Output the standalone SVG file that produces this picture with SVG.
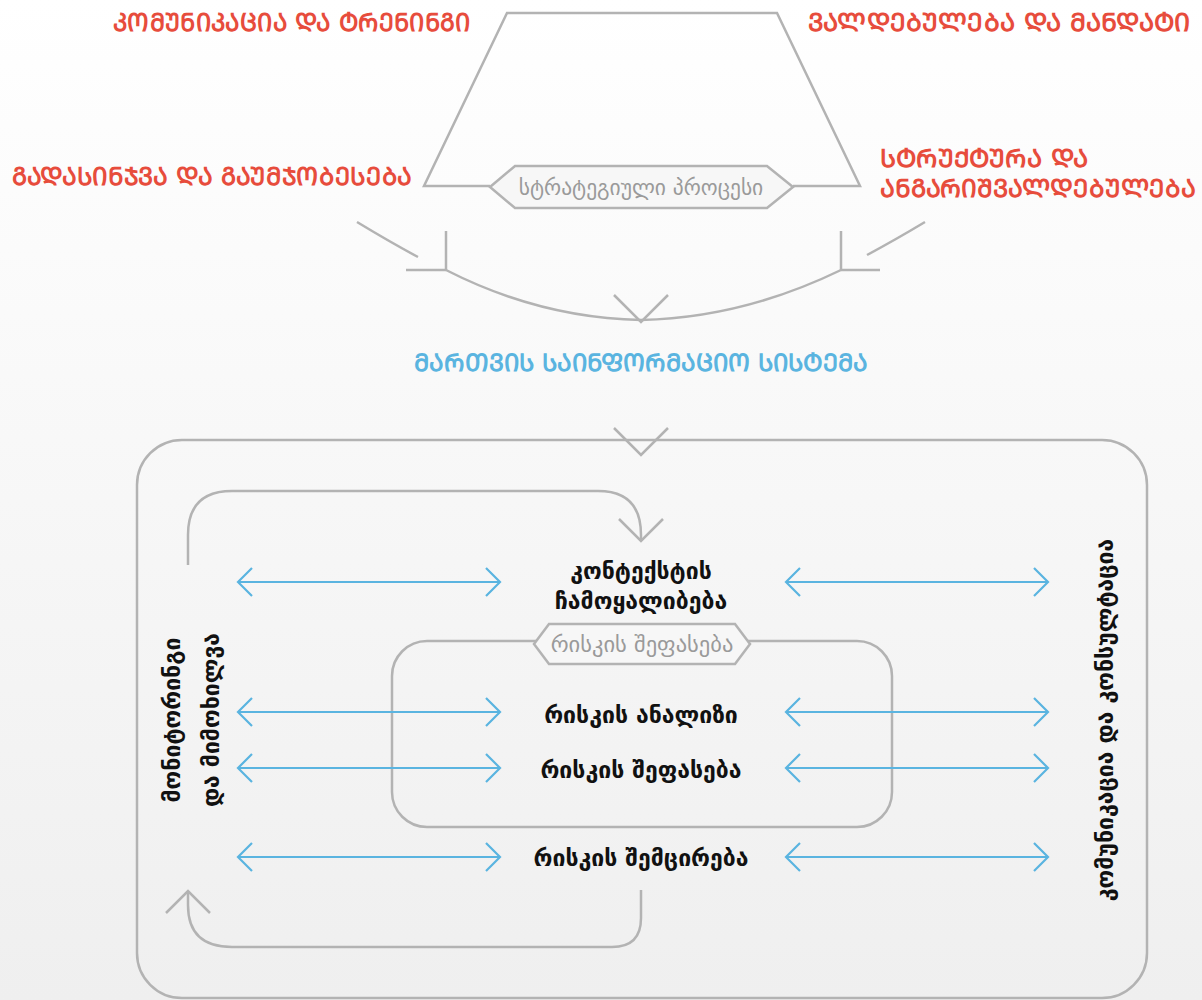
<svg xmlns="http://www.w3.org/2000/svg" width="1202" height="1000" viewBox="0 0 1202 1000">
<defs>
<linearGradient id="bg" x1="0" y1="0" x2="0" y2="1">
<stop offset="0" stop-color="#ffffff"/>
<stop offset="1" stop-color="#efefef"/>
</linearGradient>
<marker id="ba" viewBox="0 0 20 30" refX="18" refY="15" markerWidth="20" markerHeight="30" markerUnits="userSpaceOnUse" orient="auto-start-reverse">
<path d="M4,1 L18,15 L4,29" fill="none" stroke="#5ab4e0" stroke-width="2.2"/>
</marker>
<style>
.g{fill:none;stroke:#b3b3b3;stroke-width:2.5;stroke-linecap:butt}
.b{fill:none;stroke:#5ab4e0;stroke-width:2.2;marker-start:url(#ba);marker-end:url(#ba)}
.red{font-family:"DejaVu Sans",sans-serif;font-size:25px;font-weight:bold;fill:#e74c3c}
.blue{font-family:"DejaVu Sans",sans-serif;font-size:24.3px;font-weight:bold;fill:#5ab4e0}
.gt{font-family:"DejaVu Sans",sans-serif;font-size:21.5px;fill:#9a9a9a;text-anchor:middle}
.k{font-family:"DejaVu Sans",sans-serif;font-size:23px;font-weight:bold;fill:#111;text-anchor:middle}
.hex{fill:#f7f7f7;stroke:#b3b3b3;stroke-width:2.5}
</style>
</defs>
<rect width="1202" height="1000" fill="url(#bg)"/>

<g id="labels-top">
<text class="red" x="113" y="31" textLength="357" lengthAdjust="spacingAndGlyphs">ᲙᲝᲛᲣᲜᲘᲙᲐᲪᲘᲐ ᲓᲐ ᲢᲠᲔᲜᲘᲜᲒᲘ</text>
<text class="red" x="808" y="31" textLength="382" lengthAdjust="spacingAndGlyphs">ᲕᲐᲚᲓᲔᲑᲣᲚᲔᲑᲐ ᲓᲐ ᲛᲐᲜᲓᲐᲢᲘ</text>
<text class="red" x="12" y="185" textLength="400" lengthAdjust="spacingAndGlyphs">ᲒᲐᲓᲐᲡᲘᲜᲯᲕᲐ ᲓᲐ ᲒᲐᲣᲛᲯᲝᲑᲔᲡᲔᲑᲐ</text>
<text class="red" x="880" y="167" textLength="208" lengthAdjust="spacingAndGlyphs">ᲡᲢᲠᲣᲥᲢᲣᲠᲐ  ᲓᲐ</text>
<text class="red" x="880" y="197" textLength="316" lengthAdjust="spacingAndGlyphs">ᲐᲜᲒᲐᲠᲘᲨᲕᲐᲚᲓᲔᲑᲣᲚᲔᲑᲐ</text>
</g>

<g id="connectors">
<path class="g" d="M490,186 H424 L507,13 H777 L860,186 H793"/>
<path class="g" d="M357,222 Q390,242 418,257"/>
<path class="g" d="M446,231 V270 M406,270 H446"/>
<path class="g" d="M841,231 V270 M841,270 H880"/>
<path class="g" d="M925,222 Q895,240 867,255"/>
<path class="g" d="M446,270 Q540,318 641,320 Q742,318 841,270"/>
<path class="g" d="M614,295 L641,322 L668,295"/>
<path class="g" d="M614,428 L641,455 L668,428"/>
<rect class="g" x="137" y="440" width="1010" height="558" rx="45"/>
<path class="g" d="M188,565 V535 Q188,491 232,491 H598 Q641,491 641,535 V541"/>
<path class="g" d="M619,519 L641,541 L663,519"/>
<path class="g" d="M641,890 V918 Q641,947 612,947 H232 Q188,947 188,905 V893"/>
<path class="g" d="M166,913 L188,891 L210,913"/>
<rect class="g" x="392" y="641" width="500" height="186" rx="35"/>
<path class="b" d="M238,582 H500"/>
<path class="b" d="M786,582 H1048"/>
<path class="b" d="M238,712 H500"/>
<path class="b" d="M786,712 H1048"/>
<path class="b" d="M238,768 H500"/>
<path class="b" d="M786,768 H1048"/>
<path class="b" d="M238,857 H500"/>
<path class="b" d="M786,857 H1048"/>
</g>

<g id="node-strategic">
<polygon class="hex" points="490,187 515,166 767,166 793,187 767,208 515,208"/>
<text class="gt" x="641" y="195">სტრატეგიული პროცესი</text>
</g>

<g id="node-mis">
<text class="blue" x="641" y="371" text-anchor="middle">ᲛᲐᲠᲗᲕᲘᲡ ᲡᲐᲘᲜᲤᲝᲠᲛᲐᲪᲘᲝ ᲡᲘᲡᲢᲔᲛᲐ</text>
</g>

<g id="node-context">
<text class="k" x="641" y="579">კონტექსტის</text>
<text class="k" x="641" y="609">ჩამოყალიბება</text>
</g>

<g id="node-assessment">
<polygon class="hex" points="534,644 549,624 735,624 750,644 735,664 549,664"/>
<text class="gt" x="642" y="652" style="font-size:22.5px">რისკის შეფასება</text>
</g>

<g id="node-analysis"><text class="k" x="641" y="723">რისკის ანალიზი</text></g>
<g id="node-evaluation"><text class="k" x="641" y="778">რისკის შეფასება</text></g>
<g id="node-treatment"><text class="k" x="641" y="866">რისკის შემცირება</text></g>

<g id="node-monitoring">
<text class="k" transform="translate(180,720) rotate(-90)">მონიტორინგი</text>
<text class="k" transform="translate(219,720) rotate(-90)">და მიმოხილვა</text>
</g>
<g id="node-communication">
<text class="k" transform="translate(1113,720) rotate(-90)">კომუნიკაცია და კონსულტაცია</text>
</g>
</svg>
